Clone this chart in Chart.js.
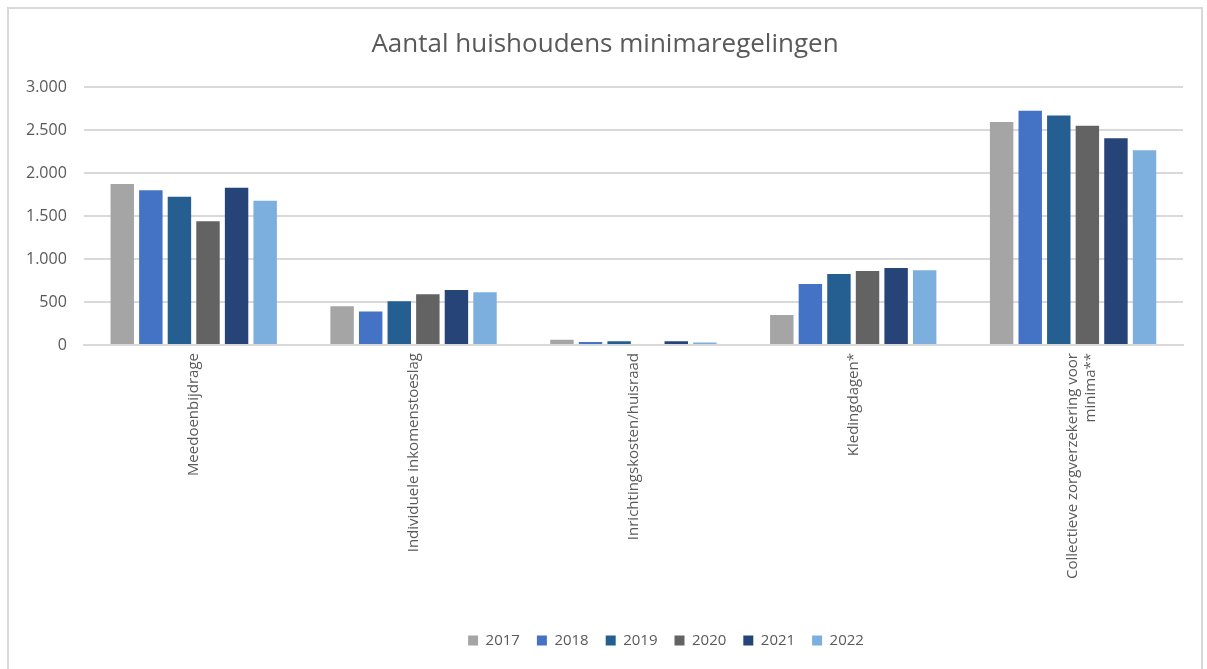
<!DOCTYPE html>
<html>
<head>
<meta charset="utf-8">
<script src="https://cdn.jsdelivr.net/npm/chart.js@4"></script>
<style>
    html, body { margin: 0; padding: 0; background: #fff; }
    #box {
        position: absolute;
        left: 7px; top: 7px;
        width: 1196px; height: 668px;
        border: 2px solid #d9d9d9;
        box-sizing: border-box;
    }
    #wrap { position: absolute; left: 0; top: 0; right: 0; bottom: 0; }
</style>
</head>
<body>
<div id="box"><div id="wrap"><canvas id="chart"></canvas></div></div>
<script>
    // --- DATA ---
    const categories = [
        'Meedoenbijdrage',
        'Individuele inkomenstoeslag',
        'Inrichtingskosten/huisraad',
        'Kledingdagen*',
        ['Collectieve zorgverzekering voor', 'minima**']
    ];
    const years = ['2017', '2018', '2019', '2020', '2021', '2022'];

    const v2017 = [1875, 450, 60, 350, 2595];
    const v2018 = [1800, 390, 35, 710, 2725];
    const v2019 = [1725, 510, 45, 825, 2670];
    const v2020 = [1440, 590, 0, 860, 2550];
    const v2021 = [1830, 640, 45, 895, 2405];
    const v2022 = [1680, 615, 30, 870, 2265];

    const yTicks = [0, 500, 1000, 1500, 2000, 2500, 3000];

    const colors = ['#a5a5a5', '#4472c4', '#255e91', '#636363', '#264478', '#7cafdd'];
    const TEXT = '#595959';
    const FONT = "'Open Sans', 'Liberation Sans', sans-serif";

    const series = [v2017, v2018, v2019, v2020, v2021, v2022];

    const fmt = (n) => n.toLocaleString('nl-NL');

    // Excel centres title/legend a bit differently; nudge them the same way
    const boxShift = {
        id: 'boxShift',
        afterLayout(chart) {
            const lg = chart.legend;
            if (lg) { lg.left += 70; lg.right += 70; }
            const tt = chart.titleBlock;
            if (tt) { tt.left += 9; tt.right += 9; }
        }
    };

    new Chart(document.getElementById('chart'), {
        type: 'bar',
        data: {
            labels: categories,
            datasets: series.map((vals, i) => ({
                label: years[i],
                data: vals,
                backgroundColor: colors[i],
                borderWidth: 0,
                categoryPercentage: 0.78,
                barPercentage: 0.82
            }))
        },
        plugins: [boxShift],
        options: {
            responsive: true,
            maintainAspectRatio: false,
            animation: false,
            layout: { padding: { left: 0, right: 18, top: 6, bottom: 15 } },
            plugins: {
                title: {
                    display: true,
                    text: 'Aantal huishoudens minimaregelingen',
                    color: TEXT,
                    font: { family: FONT, size: 26, weight: 'normal' },
                    padding: { top: 14, bottom: 27 }
                },
                legend: {
                    position: 'bottom',
                    labels: {
                        color: TEXT,
                        font: { family: FONT, size: 15 },
                        boxWidth: 10,
                        boxHeight: 10,
                        padding: 17
                    }
                },
                tooltip: { enabled: false }
            },
            scales: {
                x: {
                    grid: { display: false, drawTicks: false },
                    border: { color: '#d9d9d9', width: 2 },
                    ticks: {
                        color: TEXT,
                        font: { family: FONT, size: 15 },
                        maxRotation: 90,
                        minRotation: 90,
                        padding: 8,
                        autoSkip: false
                    },
                    afterFit: (scale) => { scale.height = 271; }
                },
                y: {
                    min: 0,
                    max: 3000,
                    afterBuildTicks: (scale) => {
                        scale.ticks = yTicks.map(v => ({ value: v }));
                    },
                    grid: { color: '#d9d9d9', lineWidth: 2, drawTicks: false },
                    border: { display: false },
                    ticks: {
                        color: TEXT,
                        font: { family: FONT, size: 16 },
                        padding: 17,
                        callback: (v) => fmt(v)
                    }
                }
            }
        }
    });
</script>
</body>
</html>
